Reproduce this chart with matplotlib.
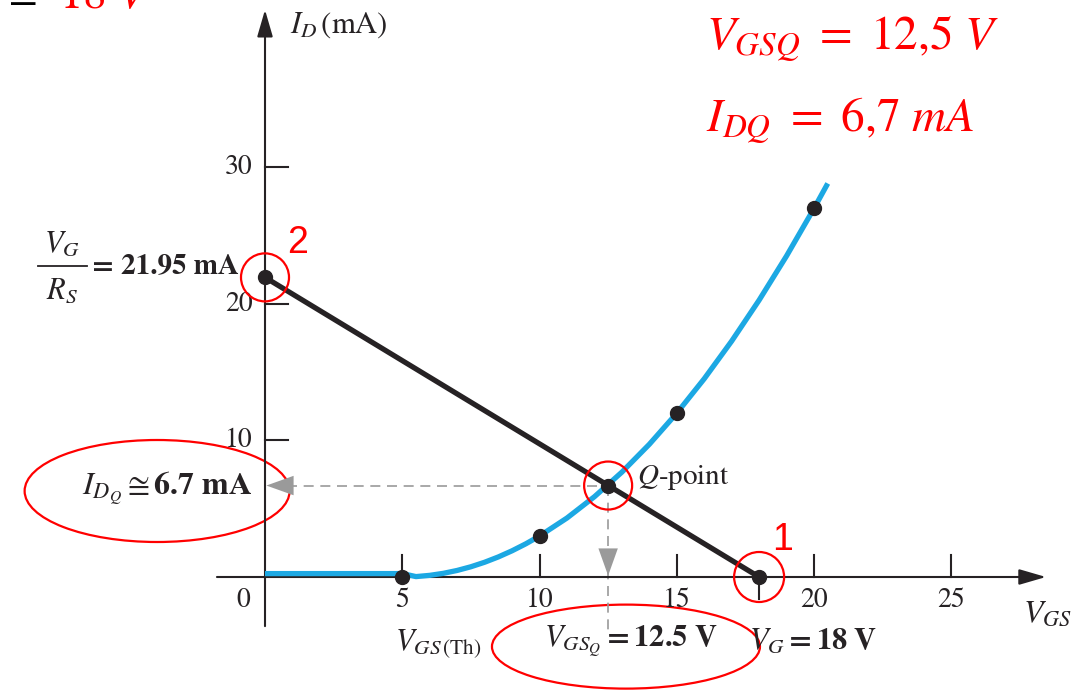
import matplotlib
matplotlib.use('Agg')
import matplotlib.pyplot as plt
from matplotlib.patches import Ellipse

plt.rcParams['font.family'] = ['STIXGeneral', 'DejaVu Serif']
plt.rcParams['mathtext.fontset'] = 'stix'

# 전달 특성 곡선 (V_GS, I_D) - 그림에서 읽은 값
vgs_curve = [0, 5, 5.5, 6, 6.5, 7, 7.5, 8, 8.5, 9, 9.5, 10, 11, 12, 13, 14,
             15, 16, 17, 18, 19, 20, 20.5]
id_curve = [0, 0, 0.03, 0.12, 0.27, 0.48, 0.75, 1.08, 1.47, 1.92, 2.43, 3.0,
            4.32, 5.88, 7.68, 9.72, 12.0, 14.52, 17.28, 20.28, 23.52, 27.0, 28.83]
vgs_dots = [5, 10, 15, 20]
id_dots = [0, 3, 12, 27]

# 바이어스 선: V_G = 18 V, V_G/R_S = 21.95 mA
vg = 18
vg_rs = 21.95
vgs_q = 12.5
id_q = 6.7

x_ticks = [5, 10, 15, 20, 25]
y_ticks = [10, 20, 30]

ink = '#262224'
blue = '#1ca8e3'
red = '#ff0000'
gray = '#9a9a9a'

fig = plt.figure(figsize=(10.73, 6.93), dpi=100)
ax = fig.add_axes([0, 0, 1, 1])
ax.set_xlim(-9.654, 29.435)
ax.set_ylim(-8.498, 42.27)
ax.axis('off')

# 데이터 1단위당 픽셀 (원/타원 크기 계산용)
sx = 1073 / (29.435 + 9.654)
sy = 693 / (42.27 + 8.498)

# 축 + 화살표
ax.annotate('', xy=(28.45, 0), xytext=(-1.75, 0),
            arrowprops=dict(arrowstyle='-|>,head_length=0.55,head_width=0.16',
                            lw=1.5, color=ink, mutation_scale=30, shrinkA=0, shrinkB=0))
ax.annotate('', xy=(0, 41.55), xytext=(0, -3.6),
            arrowprops=dict(arrowstyle='-|>,head_length=0.55,head_width=0.16',
                            lw=1.5, color=ink, mutation_scale=30, shrinkA=0, shrinkB=0))

for t in x_ticks:
    ax.plot([t, t], [0, 1.6], color=ink, lw=1.5)
    ax.text(t, -1.75, str(t), ha='center', va='center', fontsize=20, color=ink)
ax.text(-0.8, -1.75, '0', ha='center', va='center', fontsize=20, color=ink)
ax.plot([vg, vg], [0, -1.6], color=ink, lw=1.5)

for t in y_ticks:
    ax.plot([0, 0.84], [t, t], color=ink, lw=1.5)
    ax.text(-0.45, t, str(t), ha='right', va='center', fontsize=20, color=ink)

ax.text(0.9, 40.4, r'$I_D\,$(mA)', ha='left', va='center', fontsize=22, color=ink)
ax.text(28.5, -2.7, r'$V_{GS}$', ha='center', va='center', fontsize=23, color=ink)

# 점선 (Q점 투영)
ax.plot([0.8, vgs_q], [id_q, id_q], ls=(0, (6, 4)), color=gray, lw=1.2)
ax.plot([vgs_q, vgs_q], [id_q, -3.9], ls=(0, (6, 4)), color=gray, lw=1.2)
ax.annotate('', xy=(0.05, id_q), xytext=(0.9, id_q),
            arrowprops=dict(arrowstyle='-|>,head_length=0.7,head_width=0.25',
                            lw=0, color=gray, mutation_scale=28, shrinkA=0, shrinkB=0))
ax.annotate('', xy=(vgs_q, 0.1), xytext=(vgs_q, 1.6),
            arrowprops=dict(arrowstyle='-|>,head_length=0.7,head_width=0.25',
                            lw=0, color=gray, mutation_scale=28, shrinkA=0, shrinkB=0))

# 전달 곡선과 바이어스 선
ax.plot(vgs_curve, [i + 0.25 if i == 0 else i for i in id_curve],
        color=blue, lw=3.8, solid_capstyle='butt', zorder=3)
ax.plot([0, vg], [vg_rs, 0], color=ink, lw=3.8, zorder=4)
ax.plot(vgs_dots + [0, vgs_q, vg], id_dots + [vg_rs, id_q, 0], 'o',
        color=ink, ms=10, zorder=5)

# V_G / R_S 분수
ax.text(-7.4, 24.35, r'$V_G$', ha='center', va='center', fontsize=22, color=ink)
ax.plot([-8.27, -6.48], [22.75, 22.75], color=ink, lw=1.3)
ax.text(-7.4, 20.9, r'$R_S$', ha='center', va='center', fontsize=22, color=ink)
ax.text(-6.3, 22.75, '= 21.95 mA', ha='left', va='center', fontsize=21,
        fontweight='bold', color=ink)

ax.text(-0.45, 6.5, r'$I_{D_Q}\cong\mathbf{6.7\ mA}$', ha='right', va='center',
        fontsize=23, color=ink)
ax.text(13.55, 7.3, r'$Q$-point', ha='left', va='center', fontsize=21, color=ink)
ax.text(6.3, -4.9, r'$V_{GS\,(\mathrm{Th})}$', ha='center', va='center',
        fontsize=22, color=ink)
ax.text(10.15, -4.75, r'$V_{GS_Q}\mathbf{=12.5\ V}$', ha='left', va='center',
        fontsize=22, color=ink)
ax.text(17.65, -4.75, r'$V_G\mathbf{=18\ V}$', ha='left', va='center',
        fontsize=22, color=ink)

# 빨간 표시 (원, 타원, 번호)
for cx, cy, r in [(0, vg_rs, 24), (vgs_q, id_q, 24), (vg, 0, 25)]:
    ax.add_patch(Ellipse((cx, cy), 2 * r / sx, 2 * r / sy, fill=False,
                         ec=red, lw=1.6, zorder=6))
ax.add_patch(Ellipse((-3.93, 6.3), 265 / sx, 102 / sy, fill=False, ec=red, lw=1.6))
ax.add_patch(Ellipse((13.15, -5.1), 268 / sx, 84 / sy, fill=False, ec=red, lw=1.6))
ax.text(1.2, 24.5, '2', ha='center', va='center', fontsize=27, color=red,
        family='Liberation Sans')
ax.text(18.85, 2.7, '1', ha='center', va='center', fontsize=27, color=red,
        family='Liberation Sans')

ax.text(16.05, 38.6, r'$V_{GSQ}\ =\ 12{,}5\ V$', ha='left', va='baseline',
        fontsize=34, color=red)
ax.text(16.05, 32.6, r'$I_{DQ}\ =\ 6{,}7\ mA$', ha='left', va='baseline',
        fontsize=34, color=red)
ax.text(-8.3, 41.55, '=', ha='right', va='baseline', fontsize=30, color='black')
ax.text(-7.5, 41.7, r'$18\ V$', ha='left', va='baseline', fontsize=34, color=red)

fig.savefig('out.png', dpi=100)
